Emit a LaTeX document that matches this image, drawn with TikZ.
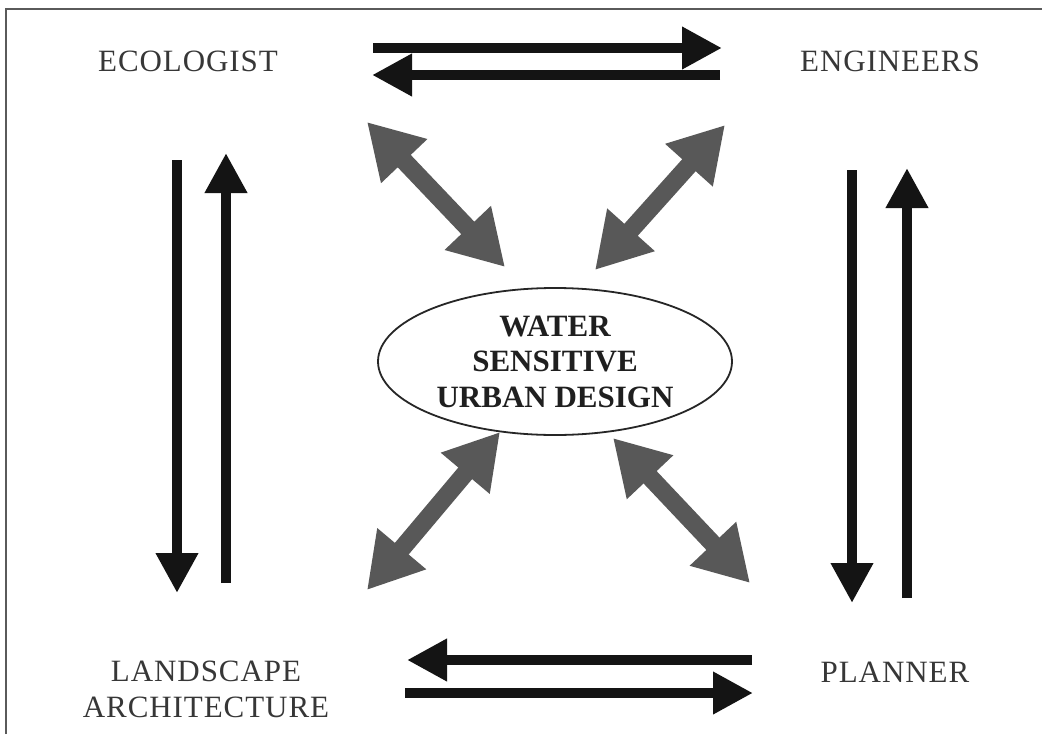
\documentclass[tikz,border=0pt]{standalone}
\usepackage{fontspec}
\setmainfont{Liberation Serif}
\newfontfamily\rolefont{Liberation Serif}[LetterSpace=3]
\usetikzlibrary{arrows.meta,shapes.geometric}
\definecolor{txtgray}{RGB}{55,55,55}
\definecolor{arrgray}{RGB}{88,88,88}
\definecolor{framegray}{RGB}{90,90,90}
\tikzset{
  role/.style={text=txtgray, font=\rolefont\fontsize{31}{36}\selectfont, align=center, inner sep=0pt},
  blackarrow/.style={draw=black!92, line width=10pt, -{Triangle[length=40pt,width=40pt]}},
  grayarrow/.style={draw=arrgray, line width=18pt, {Triangle[length=54pt,width=60pt]}-{Triangle[length=54pt,width=60pt]}},
  hub/.style={ellipse, draw=black!85, line width=1.8pt, minimum width=354pt, minimum height=147pt, inner sep=0pt,
              font=\bfseries\fontsize{31}{35.5}\selectfont, align=center, text=black!88}
}
\begin{document}
\begin{tikzpicture}[x=1pt,y=-1pt]
\fill[white] (0,0) rectangle (1042,734);
\useasboundingbox (0,0) rectangle (1042,734);
\draw[line width=2pt, framegray] (6,734) -- (6,9) -- (1042,9);

% nodes
\node[role] (eco) at (188,61) {ECOLOGIST};
\node[role] (eng) at (890,61) {ENGINEERS};
\node[role] (land) at (206,689) {LANDSCAPE\\ARCHITECTURE};
\node[role] (plan) at (895,672) {PLANNER};
\node[hub] (wsud) at (555,361.5) {WATER\\SENSITIVE\\URBAN DESIGN};

% coordinates for arrow ends
\coordinate (t1a) at (373,48);  \coordinate (t1b) at (722,48);
\coordinate (t2a) at (720,75);  \coordinate (t2b) at (372,75);
\coordinate (l1a) at (177,160); \coordinate (l1b) at (177,593);
\coordinate (l2a) at (226,583); \coordinate (l2b) at (226,153);
\coordinate (r1a) at (852,170); \coordinate (r1b) at (852,603);
\coordinate (r2a) at (907,598); \coordinate (r2b) at (907,168);
\coordinate (b1a) at (752,660); \coordinate (b1b) at (407,660);
\coordinate (b2a) at (405,693); \coordinate (b2b) at (753,693);

\coordinate (gtl1) at (367,122); \coordinate (gtl2) at (505,267);
\coordinate (gtr1) at (725,125); \coordinate (gtr2) at (595,270);
\coordinate (gbl1) at (500,432); \coordinate (gbl2) at (367,590);
\coordinate (gbr1) at (613,438); \coordinate (gbr2) at (750,583);

% black arrows
\draw[blackarrow] (t1a) -- (t1b);
\draw[blackarrow] (t2a) -- (t2b);
\draw[blackarrow] (l1a) -- (l1b);
\draw[blackarrow] (l2a) -- (l2b);
\draw[blackarrow] (r1a) -- (r1b);
\draw[blackarrow] (r2a) -- (r2b);
\draw[blackarrow] (b1a) -- (b1b);
\draw[blackarrow] (b2a) -- (b2b);

% gray double arrows
\draw[grayarrow] (gtl1) -- (gtl2);
\draw[grayarrow] (gtr1) -- (gtr2);
\draw[grayarrow] (gbl1) -- (gbl2);
\draw[grayarrow] (gbr1) -- (gbr2);
\end{tikzpicture}
\end{document}
